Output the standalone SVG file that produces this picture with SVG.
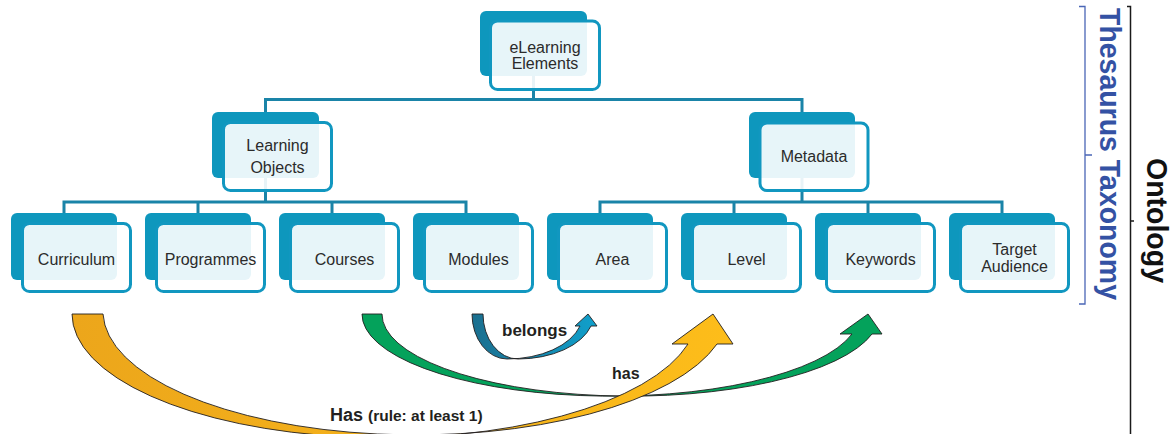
<svg xmlns="http://www.w3.org/2000/svg" width="1174" height="434" viewBox="0 0 1174 434">
<style>
.dark{fill:#0e97bd}
.front{fill:#ffffff;fill-opacity:0.9;stroke:#1197c0;stroke-width:3}
.lbl{font-family:"Liberation Sans",Arial,sans-serif;font-size:16px;fill:#2b2b2b;text-anchor:middle}
.conn{fill:none;stroke:#1a84a8;stroke-width:3}
.arrow{stroke:#231f20;stroke-width:0.9;stroke-linejoin:miter}
.rel{font-family:"Liberation Sans",Arial,sans-serif;font-weight:bold;fill:#231f20}
.side{font-family:"Liberation Sans",Arial,sans-serif;font-weight:bold;font-size:30px;text-anchor:middle}
</style>
<defs>
<linearGradient id="gOrange" gradientUnits="userSpaceOnUse" x1="72" y1="0" x2="733" y2="0">
<stop offset="0" stop-color="#eca61b"/><stop offset="1" stop-color="#fdbd1a"/>
</linearGradient>
<linearGradient id="gBlue" gradientUnits="userSpaceOnUse" x1="472" y1="0" x2="597" y2="0">
<stop offset="0" stop-color="#1b6f8f"/><stop offset="1" stop-color="#10a0cc"/>
</linearGradient>
</defs>

<g id="connectors">
<path class="conn" d="M533.5,76 V99.5 M265.5,99.5 H802 M265.5,98 V113 M802,98 V113"/>
<path class="conn" d="M265.5,178 V202 M64,202 H466 M64,200.5 V214 M198,200.5 V214 M332,200.5 V214 M466,200.5 V214"/>
<path class="conn" d="M802,178 V202 M600,202 H1002 M600,200.5 V214 M734,200.5 V214 M868,200.5 V214 M1002,200.5 V214"/>
</g>

<g id="n-elearning">
<rect class="dark" x="480" y="11" width="107" height="65" rx="6"/>
<rect class="front" x="490.5" y="21" width="109" height="68.5" rx="7"/>
<text class="lbl" x="545" y="53">eLearning</text>
<text class="lbl" x="545" y="69">Elements</text>
</g>

<g id="n-learning-objects">
<rect class="dark" x="212" y="112" width="107" height="66" rx="6"/>
<rect class="front" x="223.5" y="122.5" width="108" height="68" rx="7"/>
<text class="lbl" x="277.5" y="151">Learning</text>
<text class="lbl" x="277.5" y="173">Objects</text>
</g>

<g id="n-metadata">
<rect class="dark" x="749" y="112" width="106" height="66" rx="6"/>
<rect class="front" x="760" y="123" width="108" height="67.5" rx="7"/>
<text class="lbl" x="814" y="162">Metadata</text>
</g>

<g id="n-curriculum">
<rect class="dark" x="11" y="213" width="106" height="67" rx="6"/>
<rect class="front" x="22.5" y="223.5" width="108" height="68" rx="7"/>
<text class="lbl" x="76.5" y="265">Curriculum</text>
</g>
<g id="n-programmes">
<rect class="dark" x="145" y="213" width="106" height="67" rx="6"/>
<rect class="front" x="156.5" y="223.5" width="108" height="68" rx="7"/>
<text class="lbl" x="210.5" y="265">Programmes</text>
</g>
<g id="n-courses">
<rect class="dark" x="279" y="213" width="106" height="67" rx="6"/>
<rect class="front" x="290.5" y="223.5" width="108" height="68" rx="7"/>
<text class="lbl" x="344.5" y="265">Courses</text>
</g>
<g id="n-modules">
<rect class="dark" x="413" y="213" width="106" height="67" rx="6"/>
<rect class="front" x="424.5" y="223.5" width="108" height="68" rx="7"/>
<text class="lbl" x="478.5" y="265">Modules</text>
</g>
<g id="n-area">
<rect class="dark" x="547" y="213" width="106" height="67" rx="6"/>
<rect class="front" x="558.5" y="223.5" width="108" height="68" rx="7"/>
<text class="lbl" x="612.5" y="265">Area</text>
</g>
<g id="n-level">
<rect class="dark" x="681" y="213" width="106" height="67" rx="6"/>
<rect class="front" x="692.5" y="223.5" width="108" height="68" rx="7"/>
<text class="lbl" x="746.5" y="265">Level</text>
</g>
<g id="n-keywords">
<rect class="dark" x="815" y="213" width="106" height="67" rx="6"/>
<rect class="front" x="826.5" y="223.5" width="108" height="68" rx="7"/>
<text class="lbl" x="880.5" y="265">Keywords</text>
</g>
<g id="n-target-audience">
<rect class="dark" x="949" y="213" width="106" height="67" rx="6"/>
<rect class="front" x="960.5" y="223.5" width="108" height="68" rx="7"/>
<text class="lbl" x="1014.5" y="255">Target</text>
<text class="lbl" x="1014.5" y="272">Audience</text>
</g>

<g id="relations">
<path id="rel-has-keywords" class="arrow" fill="#04a25b" d="M362,314 A248.7,82 0 0 0 852,334 L840,334 L868,314 L882,334 L872,334 A248.7,82 0 0 1 382,314 Z"/>
<path id="rel-has-level" class="arrow" fill="url(#gOrange)" d="M72,314 A312.7,124 0 0 0 688,344 L672,344 L713,314 L733,344 L717,344 A312.7,124 0 0 1 103,314 Z"/>
<path id="rel-belongs" class="arrow" fill="url(#gBlue)" d="M472,314 A35,45 0 0 0 507,359 A75.7,45 0 0 0 580,326 L575,326 L588,314 L597,326 L591,326 A75.7,45 0 0 1 518,359 A35,45 0 0 1 483,314 Z"/>
<text class="rel" x="502" y="336" font-size="17">belongs</text>
<text class="rel" x="612" y="379" font-size="16">has</text>
<text class="rel" x="330" y="421" font-size="18">Has <tspan font-size="15.5">(rule: at least 1)</tspan></text>
</g>

<g id="side-labels">
<path fill="none" stroke="#4a66b6" stroke-width="1.3" d="M1079,6.5 H1085 V304 H1079 M1085,155 H1092"/>
<text class="side" fill="#3452a4" transform="translate(1100,154) rotate(90)" textLength="292" lengthAdjust="spacingAndGlyphs">Thesaurus Taxonomy</text>
<path fill="none" stroke="#1a1a1a" stroke-width="1.5" d="M1127,6.5 H1130.5 V434 M1130.5,221 H1134"/>
<text class="side" fill="#111111" transform="translate(1147,220.5) rotate(90)" textLength="125" lengthAdjust="spacingAndGlyphs">Ontology</text>
</g>
</svg>
